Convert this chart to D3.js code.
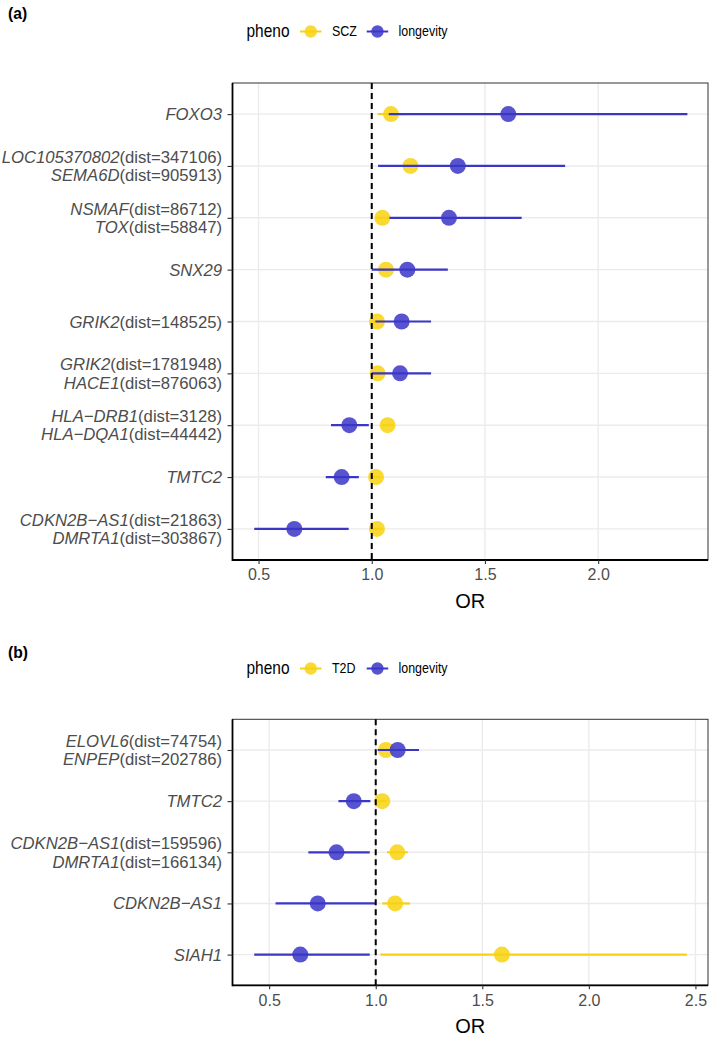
<!DOCTYPE html>
<html><head><meta charset="utf-8">
<script src="https://cdn.jsdelivr.net/npm/d3@7"></script>
<style>body{margin:0;background:#fff}svg{display:block;font-family:"Liberation Sans",Arial,sans-serif}</style>
</head><body><svg id="c" width="709" height="1040"></svg>
<script>
// ---------- Panel (a) data ----------
const genesA = ["FOXO3","LOC105370802(dist=347106)|SEMA6D(dist=905913)","NSMAF(dist=86712)|TOX(dist=58847)","SNX29","GRIK2(dist=148525)","GRIK2(dist=1781948)|HACE1(dist=876063)","HLA−DRB1(dist=3128)|HLA−DQA1(dist=44442)","TMTC2","CDKN2B−AS1(dist=21863)|DMRTA1(dist=303867)"];
const sczOR = [1.085,1.171,1.047,1.063,1.023,1.026,1.070,1.019,1.023];
const sczLo = [1.026,1.140,1.020,1.040,1.005,1.005,1.045,1.000,1.000];
const sczHi = [1.145,1.205,1.075,1.088,1.042,1.047,1.095,1.040,1.047];
const lonA_OR = [1.603,1.380,1.341,1.157,1.132,1.125,0.901,0.867,0.658];
const lonA_Lo = [1.075,1.028,1.078,1.000,1.016,1.000,0.820,0.797,0.481];
const lonA_Hi = [2.394,1.854,1.662,1.336,1.262,1.262,0.987,0.943,0.898];
const ticksA = [0.5,1.0,1.5,2.0];
// ---------- Panel (b) data ----------
const genesB = ["ELOVL6(dist=74754)|ENPEP(dist=202786)","TMTC2","CDKN2B−AS1(dist=159596)|DMRTA1(dist=166134)","CDKN2B−AS1","SIAH1"];
const t2dOR = [1.048,1.031,1.101,1.091,1.592];
const t2dLo = [1.025,1.012,1.053,1.031,1.022];
const t2dHi = [1.072,1.050,1.150,1.161,2.460];
const lonB_OR = [1.103,0.897,0.816,0.728,0.646];
const lonB_Lo = [1.009,0.825,0.684,0.530,0.430];
const lonB_Hi = [1.203,0.975,0.972,1.000,0.972];
const ticksB = [0.5,1.0,1.5,2.0,2.5];

const YEL = "#F8D210", BLU = "#3B36C8";
const svg = d3.select("#c");

function panel(cfg){
  const g = svg.append("g");
  const x = d3.scaleLinear().domain(cfg.xdom).range([cfg.left,cfg.right]);
  const y = d3.scalePoint().domain(cfg.genes).range([cfg.top,cfg.bottom]).padding(0.6);
  // tag
  g.append("text").attr("x",8).attr("y",cfg.tagY).attr("font-size",17).attr("font-weight","bold")
    .attr("dominant-baseline","middle").attr("transform",`translate(8,0) scale(0.92,1) translate(-8,0)`).text(cfg.tag);
  // legend
  const lg = g.append("g").attr("transform",`translate(0,${cfg.legY})`);
  lg.append("text").attr("x",246.5).attr("y",0).attr("font-size",18).attr("dominant-baseline","central")
    .attr("transform","translate(246.5,0) scale(0.86,1) translate(-246.5,0)").text("pheno");
  const keys = [{c:YEL,l:cfg.name1,x0:300,tx:332},{c:BLU,l:"longevity",x0:366.7,tx:398.5}];
  keys.forEach(k=>{
    lg.append("line").attr("x1",k.x0).attr("x2",k.x0+21.5).attr("y1",0).attr("y2",0).attr("stroke",k.c).attr("stroke-width",2);
    lg.append("circle").attr("cx",k.x0+10.75).attr("cy",0).attr("r",6.2).attr("fill",k.c).attr("fill-opacity",0.85);
    lg.append("text").attr("x",k.tx).attr("y",0).attr("font-size",15).attr("dominant-baseline","central")
      .attr("transform",`translate(${k.tx},0) scale(0.83,1) translate(${-k.tx},0)`).text(k.l);
  });
  // grid
  g.selectAll(".gx").data(cfg.ticks).join("line").attr("x1",d=>x(d)).attr("x2",d=>x(d))
    .attr("y1",cfg.top).attr("y2",cfg.bottom).attr("stroke","#EBEBEB").attr("stroke-width",1.4);
  g.selectAll(".gy").data(cfg.genes).join("line").attr("y1",d=>y(d)).attr("y2",d=>y(d))
    .attr("x1",cfg.left).attr("x2",cfg.right).attr("stroke","#EBEBEB").attr("stroke-width",1.4);
  // border
  g.append("rect").attr("x",cfg.left).attr("y",cfg.top).attr("width",cfg.right-cfg.left).attr("height",cfg.bottom-cfg.top)
    .attr("fill","none").attr("stroke","#333").attr("stroke-width",1);
  // series: line then point per group
  cfg.series.forEach(s=>{
    g.selectAll(null).data(cfg.genes).join("line")
      .attr("x1",(d,i)=>x(s.lo[i])).attr("x2",(d,i)=>x(s.hi[i])).attr("y1",d=>y(d)).attr("y2",d=>y(d))
      .attr("stroke",s.c).attr("stroke-width",2.2);
    g.selectAll(null).data(cfg.genes).join("circle")
      .attr("cx",(d,i)=>x(s.or[i])).attr("cy",d=>y(d)).attr("r",8).attr("fill",s.c).attr("fill-opacity",0.85);
  });
  // reference line
  g.append("line").attr("x1",x(1)).attr("x2",x(1)).attr("y1",cfg.top).attr("y2",cfg.bottom)
    .attr("stroke","#000").attr("stroke-width",2).attr("stroke-dasharray","6,4");
  // axes lines
  g.append("line").attr("x1",cfg.left).attr("x2",cfg.left).attr("y1",cfg.top).attr("y2",cfg.bottom+0.9).attr("stroke","#000").attr("stroke-width",1.8);
  g.append("line").attr("x1",cfg.left).attr("x2",cfg.right).attr("y1",cfg.bottom).attr("y2",cfg.bottom).attr("stroke","#000").attr("stroke-width",1.8);
  // x axis
  const xa = g.append("g").attr("transform",`translate(0,${cfg.bottom})`)
    .call(d3.axisBottom(x).tickValues(cfg.ticks).tickFormat(d3.format(".1f")).tickSize(4).tickPadding(5));
  xa.select(".domain").remove();
  xa.selectAll(".tick line").attr("stroke","#333").attr("stroke-width",1.1);
  xa.selectAll(".tick text").attr("font-size",16).attr("fill","#4D4D4D").attr("font-family","Liberation Sans, Arial, sans-serif");
  g.append("text").attr("x",(cfg.left+cfg.right)/2).attr("y",cfg.bottom+41).attr("text-anchor","middle")
    .attr("dominant-baseline","central").attr("font-size",20).text("OR");
  // y axis
  const ya = g.append("g").attr("transform",`translate(${cfg.left},0)`)
    .call(d3.axisLeft(y).tickSize(5).tickFormat(""));
  ya.select(".domain").remove();
  ya.selectAll(".tick line").attr("stroke","#333").attr("stroke-width",1.1);
  cfg.genes.forEach(lbl=>{
    const lines = lbl.split("|");
    lines.forEach((ln,j)=>{
      const off = lines.length===1 ? 0 : (j===0 ? -9 : 9.3);
      const k = ln.indexOf("(");
      const t = g.append("text").attr("x",cfg.left-10.5).attr("y",y(lbl)+off).attr("text-anchor","end")
        .attr("dominant-baseline","central").attr("font-size",16.7).attr("fill","#4D4D4D");
      if(k<0){ t.append("tspan").attr("font-style","italic").text(ln); }
      else { t.append("tspan").attr("font-style","italic").text(ln.slice(0,k)); t.append("tspan").text(ln.slice(k)); }
    });
  });
}

panel({tag:"(a)",tagY:15,legY:31.5,name1:"SCZ",genes:genesA,ticks:ticksA,
  xdom:[0.385,2.485],left:232.5,right:708,top:83,bottom:560,
  series:[{c:YEL,or:sczOR,lo:sczLo,hi:sczHi},{c:BLU,or:lonA_OR,lo:lonA_Lo,hi:lonA_Hi}]});
panel({tag:"(b)",tagY:653.5,legY:668.5,name1:"T2D",genes:genesB,ticks:ticksB,
  xdom:[0.328,2.559],left:232.5,right:708,top:719.3,bottom:985.3,
  series:[{c:YEL,or:t2dOR,lo:t2dLo,hi:t2dHi},{c:BLU,or:lonB_OR,lo:lonB_Lo,hi:lonB_Hi}]});
</script></body></html>
